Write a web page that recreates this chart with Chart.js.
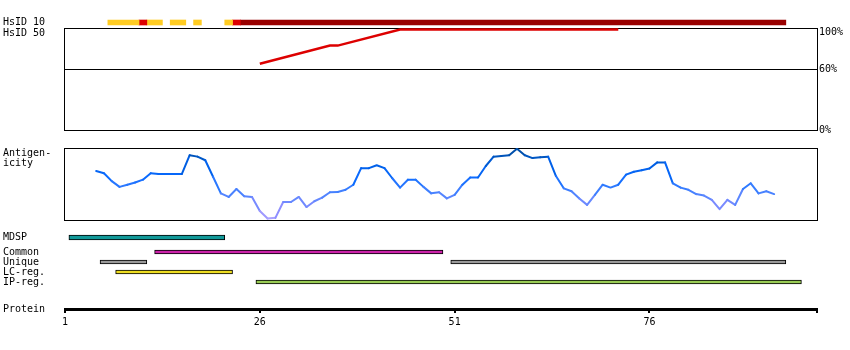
<!DOCTYPE html>
<html>
<head>
<meta charset="utf-8">
<script src="https://cdn.jsdelivr.net/npm/chart.js@4.4.1/dist/chart.umd.min.js"></script>
<style>
  body { margin: 0; background: #fff; }
  #wrap { position: relative; width: 850px; height: 350px; font: 10px 'DejaVu Sans Mono', monospace; color: #000; }
  #wrap canvas { position: absolute; left: 0; }
  .lbl { position: absolute; left: 3px; line-height: 10px; white-space: pre; }
</style>
</head>
<body>
<div id="wrap">
  <canvas id="hsid10" width="850" height="15" style="top:15px"></canvas>
  <canvas id="hsid50" width="850" height="120" style="top:20px"></canvas>
  <canvas id="antigen" width="850" height="90" style="top:140px"></canvas>
  <canvas id="mdsp" width="850" height="15" style="top:230px"></canvas>
  <canvas id="tracks" width="850" height="40" style="top:247px"></canvas>
  <canvas id="protein" width="850" height="40" style="top:290px"></canvas>
  <div class="lbl" style="top:28px">HsID 50</div>
  <div class="lbl" style="top:148px">Antigen-<br>icity</div>
  <div class="lbl" style="top:304px">Protein</div>
</div>
<script>
// residue axis
const firstResidue = 1;
const lastResidue = 97.5;
const proteinTicks = [1, 26, 51, 76];

// HsID 10 runs (1 = low, 2 = mid, 3 = high identity)
const hsid10Start = [7, 11, 12, 15, 18, 22, 23, 24];
const hsid10End   = [10, 11, 13, 16, 18, 22, 23, 93];
const hsid10Class = [1, 2, 1, 1, 1, 1, 2, 3];

// HsID 50 identity (%)
const hsid50Residue = [26, 35, 36, 44, 72];
const hsid50Percent = [66, 84, 84, 100, 100];
const percentTicks = [0, 60, 100];

// antigenicity, one value per residue starting at residue 5
const antigenFirst = 5;
const antigenicity = [
  0.68, 0.65, 0.54, 0.46, 0.49, 0.52, 0.56, 0.65, 0.64, 0.64,
  0.64, 0.64, 0.90, 0.88, 0.83, 0.60, 0.37, 0.32, 0.43, 0.33,
  0.32, 0.125, 0.02, 0.03, 0.25, 0.25, 0.32, 0.18, 0.26, 0.31,
  0.385, 0.39, 0.42, 0.49, 0.72, 0.72, 0.76, 0.72, 0.58, 0.45,
  0.56, 0.56, 0.46, 0.37, 0.385, 0.30, 0.35, 0.49, 0.59, 0.59,
  0.75, 0.88, 0.89, 0.90, 0.99, 0.90, 0.86, 0.87, 0.88, 0.61,
  0.44, 0.40, 0.30, 0.21, 0.35, 0.49, 0.45, 0.49, 0.63, 0.67,
  0.69, 0.715, 0.80, 0.80, 0.51, 0.45, 0.42, 0.36, 0.34, 0.28,
  0.15, 0.28, 0.21, 0.43, 0.51, 0.37, 0.40, 0.36
];

// feature tracks
const mdspRange = [2, 21];
const trackRows = ['Common', 'Unique', 'LC-reg.', 'IP-reg.'];
const trackName  = ['Common', 'Unique', 'Unique', 'LC-reg.', 'IP-reg.'];
const trackStart = [13, 6, 51, 8, 26];
const trackEnd   = [49, 11, 93, 22, 95];

const FONT = { family: "'DejaVu Sans Mono', monospace", size: 10 };
const hsidColors = { 1: '#FFCC22', 2: '#DD0000', 3: '#990000' };
const trackColors = { 'Common': '#CC22AA', 'Unique': '#999999', 'LC-reg.': '#EEDD22', 'IP-reg.': '#99CC55' };

// black box around the plot area, drawn under the data
const frame = {
  id: 'frame',
  beforeDatasetsDraw(chart) {
    const { ctx, chartArea: a } = chart;
    ctx.save();
    ctx.strokeStyle = '#000';
    ctx.lineWidth = 1;
    ctx.strokeRect(a.left - 0.5, a.top + 0.5, a.width + 1, a.height);
    ctx.restore();
  }
};

function baseOptions(padding) {
  return {
    responsive: false,
    animation: false,
    devicePixelRatio: 1,
    layout: { padding },
    plugins: { legend: { display: false }, tooltip: { enabled: false } }
  };
}

const residueScale = { type: 'linear', min: firstResidue, max: lastResidue, display: false };

// labels must not shrink the plot area
function noLabelPadding(s) {
  s.paddingTop = 0;
  s.paddingBottom = 0;
}

function nameAxis() {
  return {
    position: 'left',
    grid: { display: false },
    border: { display: false },
    ticks: { font: FONT, color: '#000', crossAlign: 'far', autoSkip: false, padding: 0 },
    afterFit: s => { s.width = 62; noLabelPadding(s); }
  };
}

// HsID 10
new Chart(document.getElementById('hsid10'), {
  type: 'bar',
  data: {
    labels: ['HsID 10'],
    datasets: hsid10Start.map((s, i) => ({
      data: [[s - 0.5, hsid10End[i] + 0.5]],
      backgroundColor: hsidColors[hsid10Class[i]],
      borderWidth: 0,
      grouped: false,
      barThickness: 5
    }))
  },
  options: Object.assign(baseOptions({ left: 3, right: 33 }), {
    indexAxis: 'y',
    scales: { x: residueScale, y: nameAxis() }
  })
});

// HsID 50
new Chart(document.getElementById('hsid50'), {
  type: 'line',
  data: {
    datasets: [{
      data: hsid50Residue.map((r, i) => ({ x: r, y: hsid50Percent[i] })),
      borderColor: '#DD0000',
      borderWidth: 2.5,
      pointRadius: 0,
      tension: 0,
      clip: false
    }]
  },
  options: Object.assign(baseOptions({ left: 65, right: 0, top: 8, bottom: 10 }), {
    scales: {
      x: residueScale,
      y: {
        position: 'right',
        min: 0,
        max: 101.5,
        afterBuildTicks: s => { s.ticks = percentTicks.map(v => ({ value: v })); },
        afterFit: s => { s.width = 33; noLabelPadding(s); },
        grid: { drawTicks: false, color: c => (c.tick && c.tick.value === 60 ? '#000' : 'rgba(0,0,0,0)') },
        border: { display: false },
        ticks: {
          color: '#000',
          padding: 2,
          font: c => ({ family: FONT.family, size: 10, lineHeight: c.tick && c.tick.value === 100 ? 0.66 : 1.2 }),
          callback: v => (v === 100 ? ['', '100%'] : v + '%')
        }
      }
    }
  }),
  plugins: [frame]
});

// antigenicity colour by value
const antigenStops = [
  [0.00, [176, 166, 255]],
  [0.15, [140, 140, 255]],
  [0.30, [96, 136, 255]],
  [0.45, [52, 124, 255]],
  [0.60, [10, 106, 255]],
  [0.75, [0, 96, 232]],
  [0.95, [0, 80, 170]]
];
function antigenColor(v) {
  for (let i = 1; i < antigenStops.length; i++) {
    const [v1, c1] = antigenStops[i];
    const [v0, c0] = antigenStops[i - 1];
    if (v <= v1 || i === antigenStops.length - 1) {
      const t = Math.max(0, Math.min(1, (v - v0) / (v1 - v0)));
      const c = c0.map((x, k) => Math.round(x + (c1[k] - x) * t));
      return 'rgb(' + c.join(',') + ')';
    }
  }
}

new Chart(document.getElementById('antigen'), {
  type: 'line',
  data: {
    datasets: [{
      data: antigenicity.map((v, i) => ({ x: antigenFirst + i, y: v })),
      borderWidth: 2,
      borderCapStyle: 'round',
      borderJoinStyle: 'round',
      pointRadius: 0,
      tension: 0,
      segment: { borderColor: c => antigenColor((c.p0.parsed.y + c.p1.parsed.y) / 2) }
    }]
  },
  options: Object.assign(baseOptions({ left: 65, right: 33, top: 8, bottom: 10 }), {
    scales: {
      x: residueScale,
      y: { min: 0, max: 1, display: false }
    }
  }),
  plugins: [frame]
});

// MDSP
new Chart(document.getElementById('mdsp'), {
  type: 'bar',
  data: {
    labels: ['MDSP'],
    datasets: [{
      data: [[mdspRange[0] - 0.5, mdspRange[1] + 0.5]],
      backgroundColor: '#119999',
      borderColor: '#000',
      borderWidth: 1,
      borderSkipped: false,
      barThickness: 5
    }]
  },
  options: Object.assign(baseOptions({ left: 3, right: 33 }), {
    indexAxis: 'y',
    scales: { x: residueScale, y: nameAxis() }
  })
});

// Common / Unique / LC-reg. / IP-reg.
new Chart(document.getElementById('tracks'), {
  type: 'bar',
  data: {
    labels: trackRows,
    datasets: [{
      data: trackName.map((n, i) => ({ y: n, x: [trackStart[i] - 0.5, trackEnd[i] + 0.5] })),
      backgroundColor: trackName.map(n => trackColors[n]),
      borderColor: '#000',
      borderWidth: 1,
      borderSkipped: false,
      barThickness: 4
    }]
  },
  options: Object.assign(baseOptions({ left: 3, right: 33 }), {
    indexAxis: 'y',
    scales: { x: residueScale, y: nameAxis() }
  })
});

// protein axis
new Chart(document.getElementById('protein'), {
  type: 'line',
  data: { datasets: [] },
  options: Object.assign(baseOptions({ left: 65, right: 33 }), {
    scales: {
      x: {
        type: 'linear',
        min: firstResidue,
        max: lastResidue,
        position: 'bottom',
        afterBuildTicks: s => { s.ticks = proteinTicks.concat([lastResidue]).map(v => ({ value: v })); },
        afterFit: s => { s.height = 21; },
        border: { display: true, color: '#000', width: 3 },
        grid: { drawOnChartArea: false, drawTicks: true, tickLength: 4, color: '#000', lineWidth: 2 },
        ticks: {
          font: FONT,
          color: '#000',
          padding: 3,
          maxRotation: 0,
          autoSkip: false,
          callback: v => (proteinTicks.includes(v) ? String(v) : '')
        }
      },
      y: { display: false }
    }
  })
});
</script>
</body>
</html>
